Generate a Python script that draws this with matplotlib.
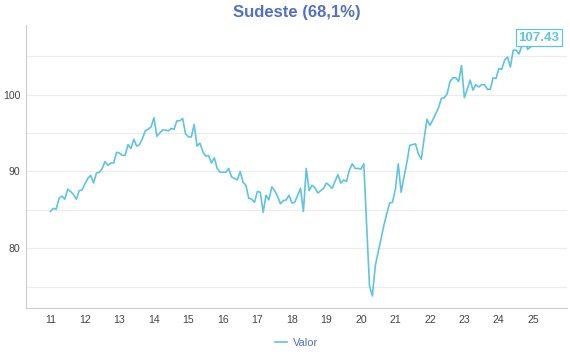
import numpy as np
import matplotlib.pyplot as plt

# Sudeste, índice mensal jan/2011 - mar/2025
anos = list(range(2011, 2026))
valor = [
    84.8, 85.2, 85.1, 86.5, 86.8, 86.4, 87.7, 87.4, 87.0, 86.4, 87.5, 87.6,
    88.4, 89.1, 89.5, 88.5, 89.8, 89.9, 90.4, 91.3, 90.8, 91.1, 91.1, 92.5,
    92.4, 92.1, 92.1, 93.5, 93.0, 94.2, 93.3, 93.5, 94.3, 95.3, 95.5, 95.8,
    97.0, 94.6, 95.0, 95.4, 95.4, 95.3, 95.6, 95.5, 96.6, 96.6, 96.9, 94.9,
    94.5, 94.5, 96.1, 93.3, 93.7, 92.6, 92.0, 92.1, 91.1, 91.8, 90.4, 89.9,
    89.9, 89.9, 90.4, 89.3, 89.1, 88.9, 90.0, 88.6, 88.2, 86.5, 86.4, 86.0,
    87.4, 87.3, 84.7, 86.9, 86.3, 88.0, 87.5, 86.8, 85.8, 86.2, 86.3, 86.9,
    85.9, 86.0, 86.9, 87.8, 84.8, 90.4, 87.5, 88.2, 87.9, 87.2, 87.5, 87.8,
    88.5, 88.2, 87.8, 88.7, 89.6, 88.5, 88.9, 88.7, 90.2, 91.0, 90.4, 90.4,
    90.3, 91.0, 83.0, 75.1, 73.8, 77.7, 79.5, 81.2, 83.0, 84.5, 85.9, 86.0,
    87.7, 91.0, 87.3, 89.3, 91.2, 93.4, 93.5, 93.6, 92.3, 91.6, 94.3, 96.8,
    96.0, 96.7, 97.5, 98.3, 99.5, 99.6, 100.1, 101.7, 102.2, 102.2, 101.7, 103.8,
    99.6, 100.7, 101.9, 100.6, 101.3, 101.0, 101.3, 101.3, 100.7, 100.7, 102.2, 102.1,
    103.4, 103.3, 104.5, 104.9, 103.6, 105.8, 105.8, 105.3, 106.4, 107.2, 105.9, 106.2,
    106.5, 106.8, 107.43,
]

cor_linha = '#5ec4e0'
cor_titulo = '#5470c6'

plt.rcParams['font.family'] = ['Liberation Sans', 'DejaVu Sans']

x = np.arange(len(valor))

fig = plt.figure(figsize=(5.7, 3.6), dpi=100)
ax = fig.add_axes([26 / 570, 1 - 308 / 360, 541 / 570, 283 / 360])

ax.plot(x, valor, color=cor_linha, linewidth=1.2, label='Valor')

ax.set_xlim(-8.5, 179.7)
ax.set_ylim(72.23, 109.07)

ax.set_yticks(np.arange(75, 106, 5), minor=True)
ax.set_yticks([80, 90, 100])
ax.grid(axis='y', which='both', color='#ececec', linewidth=0.8)
ax.set_axisbelow(True)

ticks = [12 * (a - anos[0]) for a in anos]
ax.set_xticks(ticks)
ax.set_xticklabels([str(a % 100) for a in anos])

ax.tick_params(axis='both', which='both', length=0, labelsize=7.6, colors='#444444')
ax.tick_params(axis='x', pad=5)
ax.tick_params(axis='y', pad=4)

for s in ['top', 'right']:
    ax.spines[s].set_visible(False)
for s in ['left', 'bottom']:
    ax.spines[s].set_color('#cccccc')
    ax.spines[s].set_linewidth(0.8)

# rótulo do último valor
ax.annotate(f'{valor[-1]:.2f}', (x[-1], valor[-1]), ha='center', va='center',
            fontsize=9.5, fontweight='semibold', color=cor_linha,
            bbox=dict(boxstyle='square,pad=0.18', fc='white', ec=cor_linha, lw=0.9))

fig.text(296.5 / 570, 1 - 12 / 360, 'Sudeste (68,1%)', ha='center', va='center',
         fontsize=12, fontweight='bold', color=cor_titulo)

leg = fig.legend(loc='center', bbox_to_anchor=(296.5 / 570, 1 - 343 / 360), frameon=False,
                 fontsize=8, handlelength=1.1, handletextpad=0.5)
for t in leg.get_texts():
    t.set_color(cor_titulo)

plt.savefig('out.png', dpi=100)
